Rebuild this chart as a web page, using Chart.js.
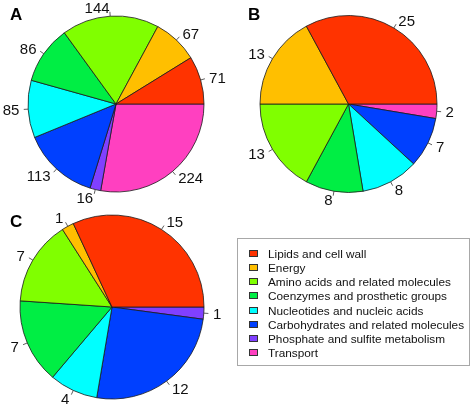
<!DOCTYPE html>
<html><head><meta charset="utf-8">
<script src="https://cdn.jsdelivr.net/npm/chart.js@4/dist/chart.umd.min.js"></script>
<style>
html,body{margin:0;padding:0;background:#fff;}
#wrap{position:relative;width:472px;height:407px;overflow:hidden;font-family:"Liberation Sans",Arial,sans-serif;}
canvas{position:absolute;left:0;top:0;}
#legend{position:absolute;left:237px;top:238px;width:233px;height:128px;border:1px solid #a8a8a8;box-sizing:border-box;}
.row{position:absolute;left:0;height:14px;line-height:14px;font-size:11.8px;color:#111;white-space:nowrap;}
.sw{position:absolute;left:11px;top:3px;width:7px;height:5px;border:1px solid #333;}
.tx{position:absolute;left:30px;top:0;}
</style></head><body>
<div id="wrap">
<canvas id="cA" width="472" height="407"></canvas>
<canvas id="cB" width="472" height="407"></canvas>
<canvas id="cC" width="472" height="407"></canvas>
<div id="legend"></div>
</div>
<script>
const categories = ["Lipids and cell wall","Energy","Amino acids and related molecules","Coenzymes and prosthetic groups","Nucleotides and nucleic acids","Carbohydrates and related molecules","Phosphate and sulfite metabolism","Transport"];
const colors = ["#FF3300","#FFBF00","#80FF00","#00EE44","#00FFFF","#0040FF","#8040FF","#FF40C0"];
const seriesA = [71,67,144,86,85,113,16,224];
const seriesB = [25,13,13,8,8,7,0,2];
const seriesC = [15,1,7,7,4,12,1,0];
const panelLetters = ["A","B","C"];

const W = 472, H = 407;
const labelPlugin = {
  id:'pieLabels',
  afterDatasetsDraw(chart, args, opts){
    const ctx = chart.ctx;
    const meta = chart.getDatasetMeta(0);
    const vals = chart.data.datasets[0].data;
    ctx.save();
    ctx.font = '15px "Liberation Sans", Arial, sans-serif';
    ctx.fillStyle = '#111';
    ctx.strokeStyle = '#333';
    ctx.lineWidth = 0.8;
    ctx.textBaseline = 'middle';
    meta.data.forEach((arc,i)=>{
      if(!vals[i]) return;
      const p = arc.getProps(['x','y','startAngle','endAngle','outerRadius'], true);
      const mid = (p.startAngle+p.endAngle)/2, c = Math.cos(mid), s = Math.sin(mid), r = p.outerRadius;
      ctx.beginPath();
      ctx.moveTo(p.x+c*r, p.y+s*r);
      ctx.lineTo(p.x+c*r*1.05, p.y+s*r*1.05);
      ctx.stroke();
      ctx.textAlign = c < 0 ? 'right' : 'left';
      ctx.fillText(String(vals[i]), p.x+c*r*1.1, p.y+s*r*1.1+1);
    });
    ctx.font = 'bold 17px "Liberation Sans", Arial, sans-serif';
    ctx.textAlign = 'left';
    ctx.textBaseline = 'alphabetic';
    ctx.fillStyle = '#000';
    ctx.fillText(opts.letter, opts.lx, opts.ly);
    ctx.restore();
  }
};

function makePie(id, values, letter, cx, cy, r, lx, ly){
  const rev = a => a.slice().reverse();
  new Chart(document.getElementById(id), {
    type:'pie',
    data:{labels: rev(categories), datasets:[{data: rev(values), backgroundColor: rev(colors), borderColor:'#1a1a1a', borderWidth:0.8}]},
    options:{
      responsive:false, animation:false, events:[], rotation:90, radius:r,
      layout:{padding:{left:cx-r-2, right:W-cx-r-2, top:cy-r-2, bottom:H-cy-r-2}},
      plugins:{legend:{display:false}, tooltip:{enabled:false}, pieLabels:{letter, lx, ly}}
    },
    plugins:[labelPlugin]
  });
}
makePie('cA', seriesA, panelLetters[0], 116, 104, 88, 10, 20);
makePie('cB', seriesB, panelLetters[1], 348.5, 104, 88.5, 248, 20);
makePie('cC', seriesC, panelLetters[2], 112, 307, 92, 10, 227);

const leg = document.getElementById('legend');
categories.forEach((name,i)=>{
  const row = document.createElement('div');
  row.className = 'row';
  row.style.top = (14.7 + 14.2*i - 7) + 'px';
  const sw = document.createElement('div');
  sw.className = 'sw';
  sw.style.background = colors[i];
  const tx = document.createElement('div');
  tx.className = 'tx';
  tx.textContent = name;
  row.appendChild(sw); row.appendChild(tx);
  leg.appendChild(row);
});
</script>
</body></html>
